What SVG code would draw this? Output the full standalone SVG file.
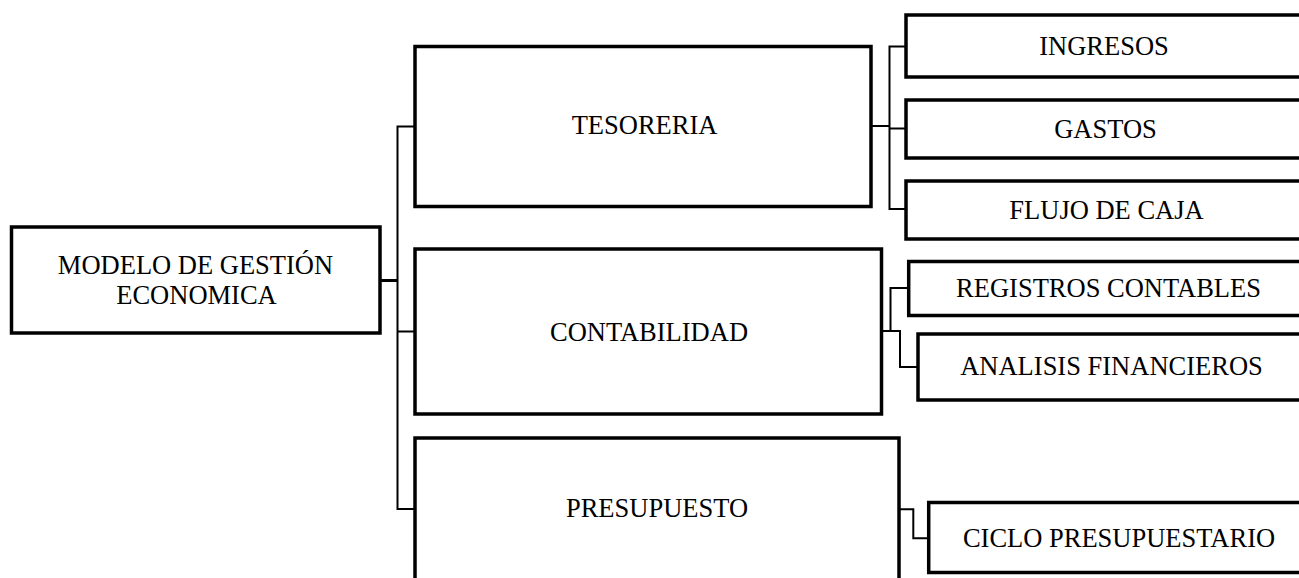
<svg xmlns="http://www.w3.org/2000/svg" width="1299" height="578" viewBox="0 0 1299 578">
<style>
.box{fill:#fff;stroke:#000;stroke-width:3.5}
.lbl{font-family:"Liberation Serif","Times New Roman",serif;font-size:26.5px;fill:#000;text-anchor:middle}
.con{fill:none;stroke:#000;stroke-width:2}
</style>
<rect width="1299" height="578" fill="#fff"/>
<g id="connectors">
<path class="con" style="stroke-width:3" d="M380 280.5 H397.5"/>
<path class="con" d="M415 126.5 H397.5 V509 H415"/>
<path class="con" d="M397.5 331.5 H415"/>
<path class="con" d="M871 126 H889.5"/>
<path class="con" d="M906 46.5 H889.5 V209 H906"/>
<path class="con" d="M889.5 128.5 H906"/>
<path class="con" d="M881.5 331 H890.5 V288 H908.7"/>
<path class="con" d="M890.5 331 H900 V367 H918"/>
<path class="con" d="M898.7 509.3 H913.3 V538.3 H928.7"/>
</g>
<g id="root">
<rect class="box" x="11.5" y="227" width="368.5" height="106"/>
<text class="lbl" x="195.5" y="274.3">MODELO DE GESTIÓN</text>
<text class="lbl" x="196.5" y="304.3">ECONOMICA</text>
</g>
<g id="tesoreria">
<rect class="box" x="415" y="46.5" width="456" height="160"/>
<text class="lbl" x="644.5" y="134">TESORERIA</text>
</g>
<g id="contabilidad">
<rect class="box" x="415" y="249" width="466.5" height="165"/>
<text class="lbl" x="649" y="341">CONTABILIDAD</text>
</g>
<g id="presupuesto">
<rect class="box" x="415" y="438" width="484" height="160"/>
<text class="lbl" x="657" y="517">PRESUPUESTO</text>
</g>
<g id="ingresos">
<rect class="box" x="906" y="15" width="400" height="62"/>
<text class="lbl" x="1104" y="55">INGRESOS</text>
</g>
<g id="gastos">
<rect class="box" x="906" y="100" width="400" height="58"/>
<text class="lbl" x="1105.5" y="137.5">GASTOS</text>
</g>
<g id="flujo">
<rect class="box" x="906" y="181" width="400" height="58"/>
<text class="lbl" x="1106.5" y="219">FLUJO DE CAJA</text>
</g>
<g id="registros">
<rect class="box" x="908.7" y="261.5" width="400" height="54"/>
<text class="lbl" x="1108.5" y="297">REGISTROS CONTABLES</text>
</g>
<g id="analisis">
<rect class="box" x="918" y="334" width="400" height="66"/>
<text class="lbl" x="1111.5" y="375">ANALISIS FINANCIEROS</text>
</g>
<g id="ciclo">
<rect class="box" x="928.7" y="502.5" width="400" height="70"/>
<text class="lbl" x="1119" y="546.5">CICLO PRESUPUESTARIO</text>
</g>
</svg>
